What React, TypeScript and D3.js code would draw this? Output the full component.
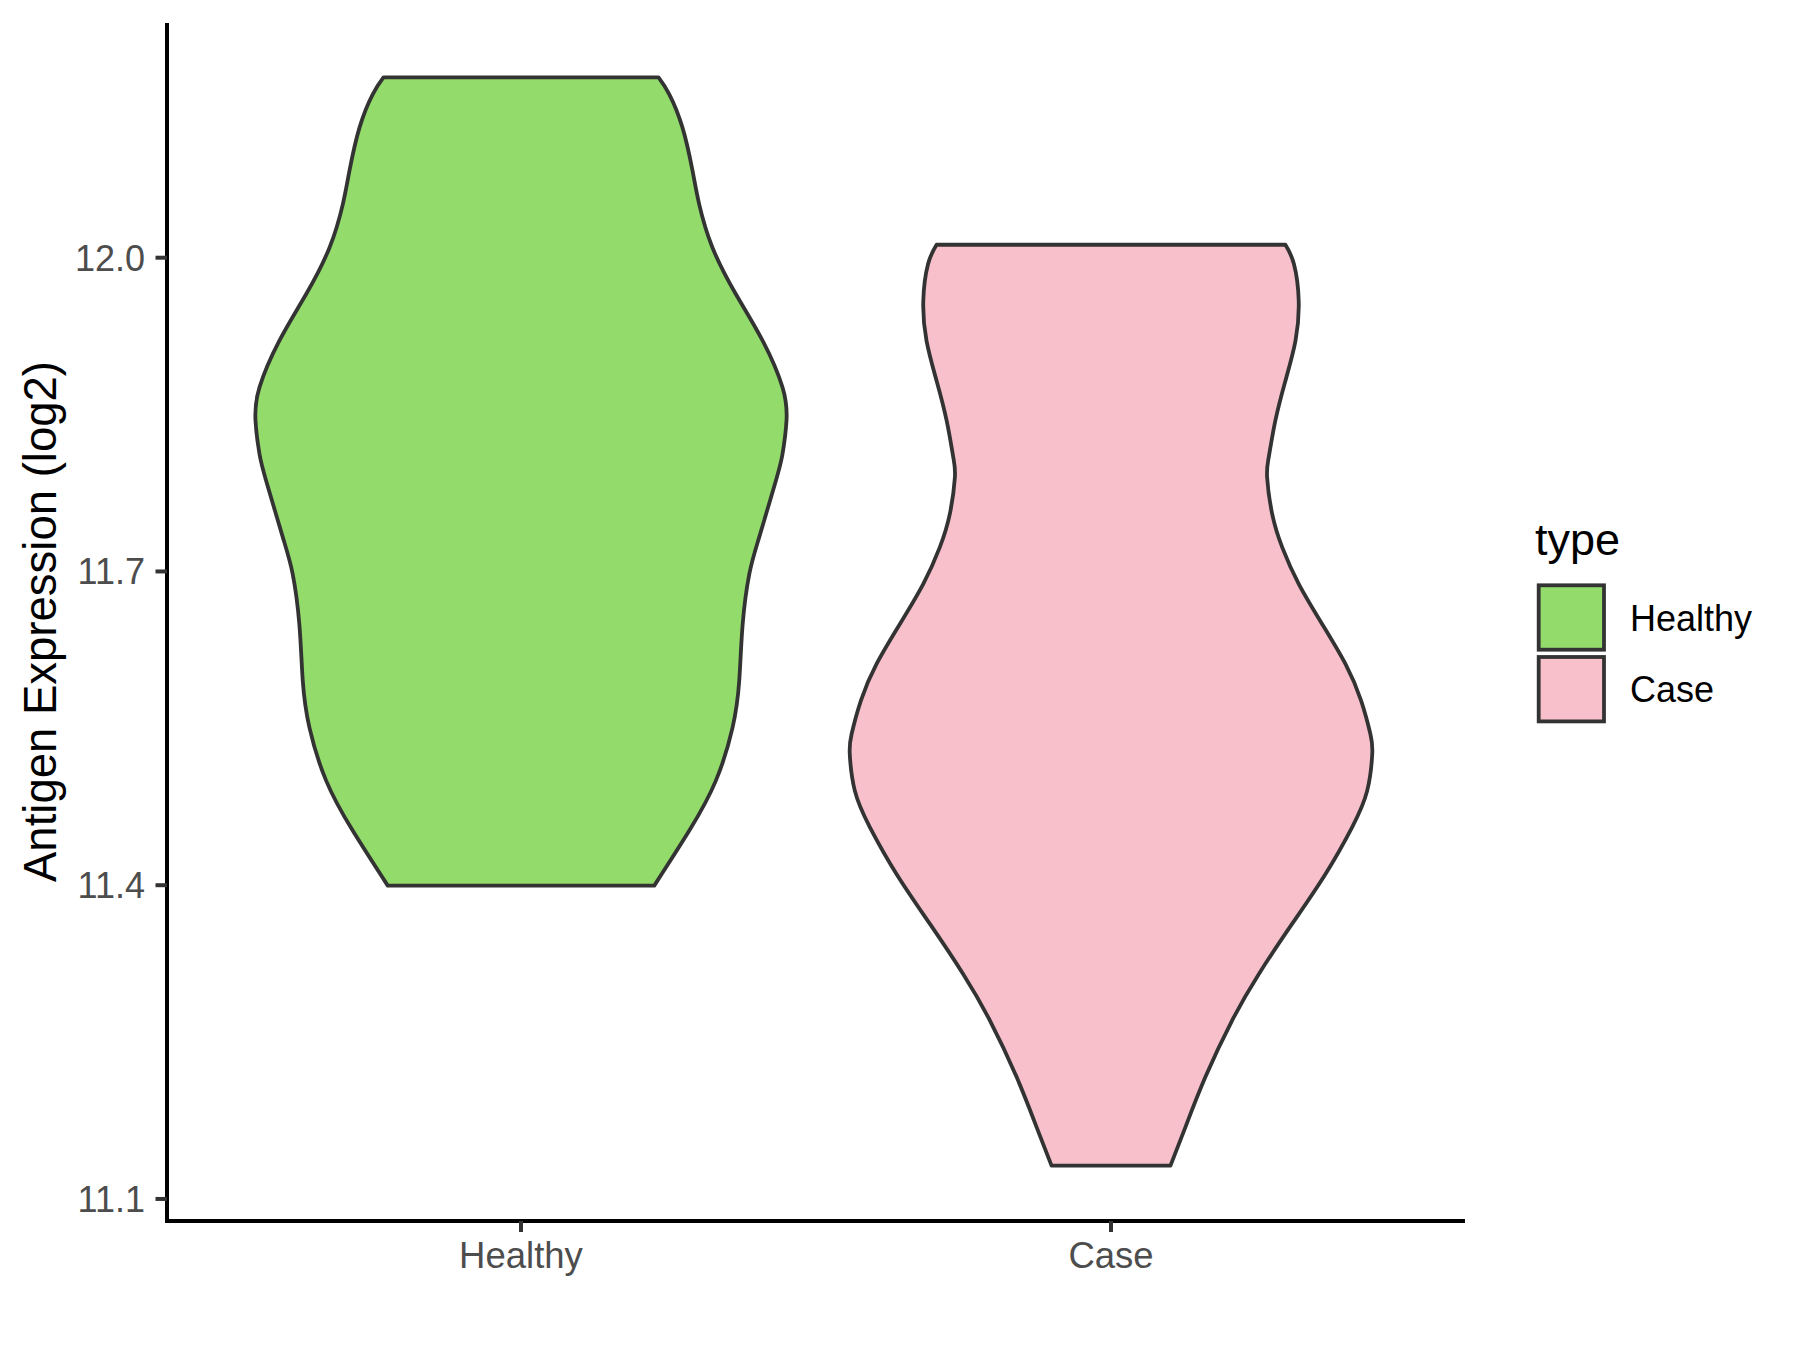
import React from "react";
import * as d3 from "d3";

const categories = ["Healthy", "Case"];
const fillColors = ["#93DB6B", "#F7C0CB"];
const yTicks = [11.1, 11.4, 11.7, 12.0];
const yTitle = "Antigen Expression (log2)";
const legendTitle = "type";

// violin outlines: expression value and relative half-width (1 = max width)
const healthyValues = [12.1724, 12.1565, 12.1246, 12.0832, 12.0513, 12.0098, 11.9653, 11.9207, 11.876, 11.8442, 11.8123, 11.7868, 11.7326, 11.6976, 11.6498, 11.5956, 11.5509, 11.5, 11.4522, 11.3996];
const healthyWidths = [0.518, 0.558, 0.608, 0.646, 0.671, 0.721, 0.809, 0.91, 0.985, 1.0, 0.985, 0.96, 0.897, 0.86, 0.835, 0.822, 0.797, 0.734, 0.634, 0.502];
const caseValues = [12.0124, 11.994, 11.9589, 11.9207, 11.8824, 11.8442, 11.8091, 11.79, 11.755, 11.723, 11.6881, 11.6498, 11.6116, 11.5765, 11.5446, 11.5255, 11.4904, 11.4554, 11.4108, 11.363, 11.3152, 11.2706, 11.2163, 11.1685, 11.1319];
const caseWidths = [0.657, 0.689, 0.707, 0.695, 0.657, 0.619, 0.594, 0.588, 0.607, 0.645, 0.707, 0.795, 0.883, 0.942, 0.977, 0.984, 0.965, 0.908, 0.808, 0.682, 0.557, 0.456, 0.355, 0.28, 0.224];

const violinValues = [healthyValues, caseValues];
const violinWidths = [healthyWidths, caseWidths];

const FONT = "'Liberation Sans', Arial, Helvetica, sans-serif";

export default function App() {
  const W = 1800;
  const H = 1350;
  const panel = { left: 167, right: 1465, top: 23, bottom: 1220 };

  const allVals = [...healthyValues, ...caseValues];
  const vMin = d3.min(allVals) as number;
  const vMax = d3.max(allVals) as number;
  const span = vMax - vMin;

  const y = d3
    .scaleLinear()
    .domain([vMin - 0.05 * span, vMax + 0.05 * span])
    .range([panel.bottom, panel.top]);

  const x = d3
    .scalePoint<string>()
    .domain(categories)
    .range([panel.left, panel.right])
    .padding(0.6);

  const halfMax = 0.45 * x.step();
  const w = d3.scaleLinear().domain([0, 1]).range([0, halfMax]);

  const sideLine = d3
    .line<[number, number]>()
    .x((d) => d[0])
    .y((d) => d[1])
    .curve(d3.curveNatural);

  const violinPath = (i: number) => {
    const cx = x(categories[i]) as number;
    const vals = violinValues[i];
    const ws = violinWidths[i];
    const left: [number, number][] = vals.map((v, k) => [cx - w(ws[k]), y(v)]);
    const right: [number, number][] = vals
      .map((v, k) => [cx + w(ws[k]), y(v)] as [number, number])
      .reverse();
    const lp = sideLine(left) as string;
    const rp = (sideLine(right) as string).replace(/^M/, "L");
    return lp + rp + "Z";
  };

  const strokeCol = "#333333";

  return (
    <div style={{ position: "absolute", left: 0, top: 0 }}>
      <svg width={W} height={H} viewBox={`0 0 ${W} ${H}`} style={{ display: "block", background: "#fff" }}>
        <rect x={0} y={0} width={W} height={H} fill="#ffffff" />
        {/* violins */}
        {categories.map((c, i) => (
          <path
            key={c}
            d={violinPath(i)}
            fill={fillColors[i]}
            stroke={strokeCol}
            strokeWidth={3.8}
            strokeLinejoin="round"
          />
        ))}

        {/* y axis */}
        <line x1={panel.left} x2={panel.left} y1={panel.top} y2={panel.bottom + 2} stroke="#000" strokeWidth={4} />
        {yTicks.map((t) => (
          <g key={t}>
            <line x1={panel.left - 11.5} x2={panel.left} y1={y(t)} y2={y(t)} stroke={strokeCol} strokeWidth={4} />
            <text
              x={panel.left - 22}
              y={y(t) + 13}
              textAnchor="end"
              fontFamily={FONT}
              fontSize={36}
              fill="#4D4D4D"
            >
              {t.toFixed(1)}
            </text>
          </g>
        ))}

        {/* x axis */}
        <line x1={panel.left - 2} x2={panel.right} y1={panel.bottom + 1} y2={panel.bottom + 1} stroke="#000" strokeWidth={4} />
        {categories.map((c) => (
          <g key={c}>
            <line
              x1={x(c) as number}
              x2={x(c) as number}
              y1={panel.bottom + 1}
              y2={panel.bottom + 12}
              stroke={strokeCol}
              strokeWidth={4}
            />
            <text
              x={x(c) as number}
              y={panel.bottom + 48}
              textAnchor="middle"
              fontFamily={FONT}
              fontSize={36.5}
              fill="#4D4D4D"
            >
              {c}
            </text>
          </g>
        ))}

        {/* y title */}
        <text
          transform={`translate(56, ${(panel.top + panel.bottom) / 2}) rotate(-90)`}
          textAnchor="middle"
          fontFamily={FONT}
          fontSize={45.5}
          fill="#000"
        >
          {yTitle}
        </text>

        {/* legend */}
        <text x={1535} y={555} fontFamily={FONT} fontSize={45} fill="#000">
          {legendTitle}
        </text>
        {categories.map((c, i) => (
          <g key={c}>
            <rect
              x={1538.7}
              y={585.3 + i * 71.7}
              width={65.3}
              height={64.4}
              fill={fillColors[i]}
              stroke={strokeCol}
              strokeWidth={3.8}
            />
            <text x={1630} y={630.7 + i * 71} fontFamily={FONT} fontSize={36} fill="#000">
              {c}
            </text>
          </g>
        ))}
      </svg>
    </div>
  );
}
